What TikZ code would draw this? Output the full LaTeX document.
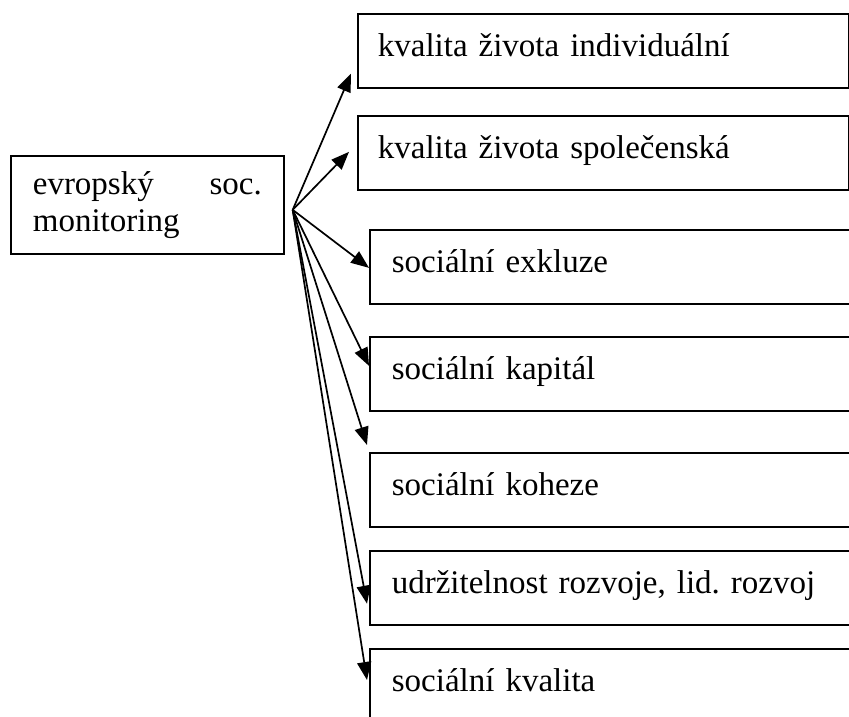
\documentclass[tikz,border=0pt]{standalone}
\usepackage{fontspec}
\setmainfont{Liberation Serif}
\frenchspacing
\usetikzlibrary{arrows.meta,calc}

\begin{document}
\begin{tikzpicture}[x=1pt,y=-1pt,
    topic/.style={draw, line width=1.7pt, anchor=north west, minimum height=74pt,
        text height=21pt, text depth=10pt, align=left, font=\fontsize{33}{37}\selectfont},
    narrow/.style={topic, inner xsep=20pt, text width=451pt},
    wide/.style={topic, inner xsep=22pt, text width=480pt},
    arr/.style={-{Triangle[length=18pt,width=14pt]}, line width=1.7pt}]
        \useasboundingbox (0,0) rectangle (849,717);
        \clip (0,0) rectangle (849,717);

        % Source box
        \node[draw, line width=1.7pt, anchor=north west, inner xsep=22pt, text width=229pt,
            minimum height=98pt, align=left, font=\fontsize{33}{37}\selectfont] (monitor) at (10,155)
            {evropský\hfill soc.\\monitoring};
        \coordinate (hub) at ($(monitor.east)+(8,5)$);

        % Target boxes
        \node[narrow] (life) at (357,13) {kvalita života individuální};
        \node[narrow] (society) at (357,115) {kvalita života společenská};
        \node[wide] (exclusion) at (369,229) {sociální exkluze};
        \node[wide] (capital) at (369,336) {sociální kapitál};
        \node[wide] (cohesion) at (369,452) {sociální koheze};
        \node[wide] (sustain) at (369,550) {udržitelnost rozvoje, lid. rozvoj};
        \node[wide] (quality) at (369,648) {sociální kvalita};

        % Arrows
        \draw[arr] (hub) -- ($(life.south west)+(-6,-15)$);
        \draw[arr] (hub) -- ($(society.west)+(-8,-1)$);
        \draw[arr] (hub) -- ($(exclusion.west)+(0,1)$);
        \draw[arr] (hub) -- ($(capital.west)+(0,-8)$);
        \draw[arr] (hub) -- ($(cohesion.north west)+(-2,-7)$);
        \draw[arr] (hub) -- ($(sustain.south west)+(-2,-22)$);
        \draw[arr] (hub) -- ($(quality.north west)+(-2,32)$);
\end{tikzpicture}
\end{document}
